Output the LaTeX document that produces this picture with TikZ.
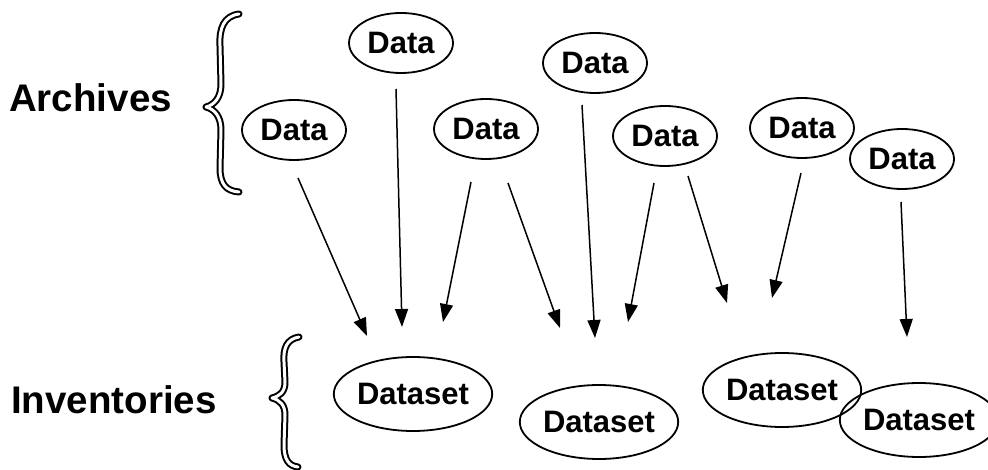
\documentclass[tikz,border=0pt]{standalone}
\usepackage{fontspec}
\setmainfont{Liberation Sans}
\usetikzlibrary{arrows.meta,shapes.geometric}
\begin{document}
\begin{tikzpicture}[x=1pt,y=-1pt,
  databox/.style={ellipse,draw,line width=1.8pt,inner sep=0pt,minimum width=104pt,minimum height=60pt,font=\fontsize{31}{35}\selectfont\bfseries},
  setbox/.style={ellipse,draw,line width=1.8pt,inner sep=0pt,minimum width=148pt,minimum height=74pt,font=\fontsize{31}{35}\selectfont\bfseries},
  grouplabel/.style={anchor=base west,inner sep=0pt,font=\fontsize{38.5}{44}\selectfont\bfseries},
  arr/.style={line width=1.5pt,-{Triangle[length=18pt,width=13pt]}},
  bracestyle/.style={double,double distance=3pt,line width=2pt,line join=round,line cap=round}]
\useasboundingbox (0,0) rectangle (988,470);
% labels
\node[grouplabel] (arch) at (9,112) {Archives};
\node[grouplabel] (inv) at (11,413) {Inventories};
% braces
\draw[bracestyle] (239,14) .. controls (224,16) and (219,28) .. (220,46) -- (221,84)
  .. controls (221,98) and (214,105) .. (206,107)
  .. controls (214,109) and (221,116) .. (221,130) -- (220,168)
  .. controls (220,184) and (226,191) .. (239,192);
\draw[bracestyle] (299,337) .. controls (287,339) and (283,348) .. (284,362) -- (285,382)
  .. controls (285,392) and (280,396) .. (272,398)
  .. controls (280,400) and (285,405) .. (285,415) -- (284,445)
  .. controls (284,460) and (289,466) .. (298,467);
% data nodes
\node[databox] (d1) at (294,130) {Data};
\node[databox] (d2) at (401,43) {Data};
\node[databox] (d3) at (486,129) {Data};
\node[databox] (d4) at (595,63) {Data};
\node[databox] (d5) at (665,136) {Data};
\node[databox] (d6) at (802,128) {Data};
\node[databox] (d7) at (902,159) {Data};
% dataset nodes
\node[setbox] (s1) at (413,394) {Dataset};
\node[setbox] (s2) at (599,422) {Dataset};
\node[setbox] (s3) at (782,390) {Dataset};
\node[setbox,minimum width=136pt] (s4) at (919,420) {Dataset};
% arrow ends
\coordinate (b1) at (298,178); \coordinate (t1) at (367,336);
\coordinate (b2) at (396,89);  \coordinate (t2) at (402,327);
\coordinate (b3) at (471,182); \coordinate (t3) at (443,322);
\coordinate (b4) at (508,183); \coordinate (t4) at (560,328);
\coordinate (b5) at (582,105); \coordinate (t5) at (595,338);
\coordinate (b6) at (654,183); \coordinate (t6) at (628,322);
\coordinate (b7) at (688,176); \coordinate (t7) at (727,303);
\coordinate (b8) at (801,173); \coordinate (t8) at (772,298);
\coordinate (b9) at (901,202); \coordinate (t9) at (907,337);
\foreach \i in {1,...,9}{\draw[arr] (b\i) -- (t\i);}
\end{tikzpicture}
\end{document}
